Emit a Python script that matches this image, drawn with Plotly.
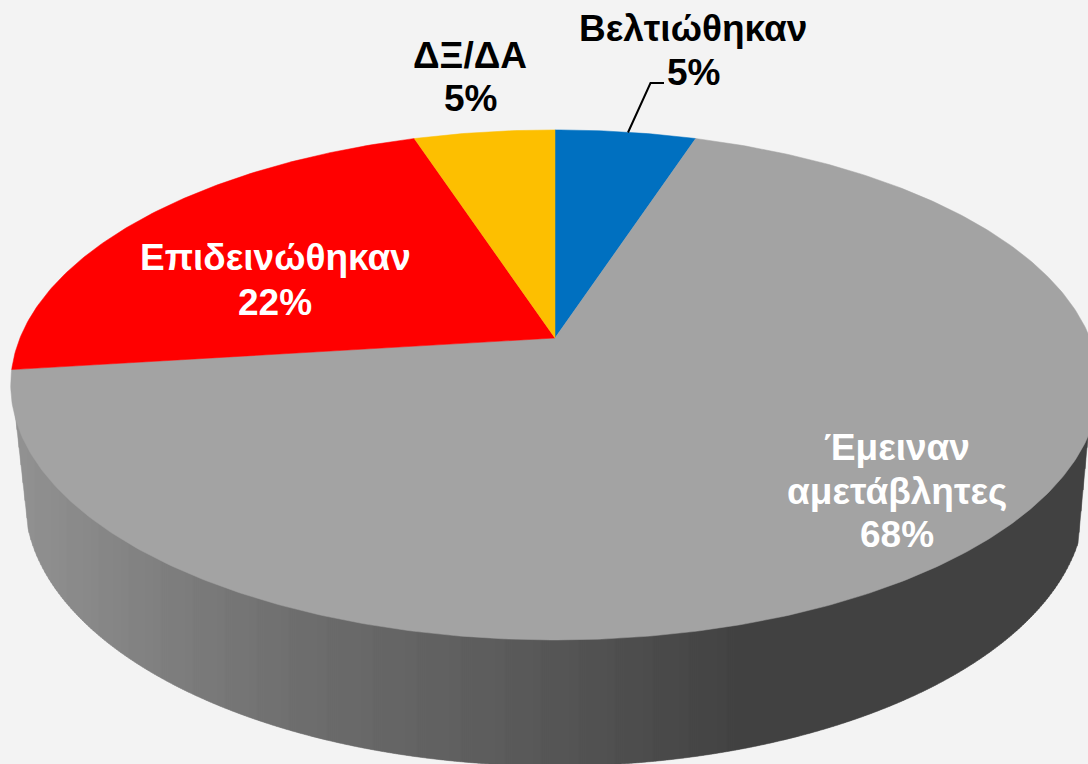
import numpy as np
import plotly.graph_objects as go

# Data (clockwise from 12 o'clock)
categories = ["Βελτιώθηκαν", "Έμειναν αμετάβλητες", "Επιδεινώθηκαν", "ΔΞ/ΔΑ"]
values = [5, 68, 22, 5]
colors = ["#0070c0", "#a3a3a3", "#ff0000", "#fdbf00"]
label_lines = [["Βελτιώθηκαν", "5%"], ["Έμειναν", "αμετάβλητες", "68%"], ["Επιδεινώθηκαν", "22%"], ["ΔΞ/ΔΑ", "5%"]]
label_x = [693, 897, 275, 470]
label_y = [[28, 72], [447, 491, 534], [257, 302], [55, 98]]
label_color = ["#000000", "#ffffff", "#ffffff", "#000000"]

W, H = 1088, 764
BG = "#f3f3f3"
CX, CY = 555, 338      # apex of the pie in the picture
B, A, K = 535, 246.4, 0.184   # perspective projection of the top disc

def project(theta):
    """Pie angle (clockwise from top, radians) to picture coordinates."""
    d = 1 + K * np.cos(theta)
    return CX + B * np.sin(theta) / d, CY - A * np.cos(theta) / d

fig = go.Figure()

# Side wall: vertical gradient strips down to the lower rim
LOW_CX, LOW_CY, LOW_RX, LOW_RY = 555, 500, 530, 266
def lower_rim(x):
    u = np.clip((x - LOW_CX) / LOW_RX, -1, 1)
    y = LOW_CY + LOW_RY * np.sqrt(1 - u * u)
    # straight run from the top disc to the lower ellipse at the two sides
    y = np.where(x < 28, 412 + (x - 15) * (527 - 412) / 13, y)
    y = np.where(x > 1078, 543 - (x - 1078) * (543 - 437) / 10, y)
    return y

grad_x = [15, 300, 500, 740, 1088]
grad_v = [146, 110, 92, 66, 66]
edges = np.arange(15, 1091, 2.0)
for x0, x1 in zip(edges[:-1], edges[1:]):
    xs = np.linspace(x0, x1, 3)
    ys = lower_rim(xs)
    v = int(round(np.interp((x0 + x1) / 2, grad_x, grad_v)))
    c = f"rgb({v},{v},{v})"
    fig.add_trace(go.Scatter(
        x=[x0, *xs, x1, x0], y=[385, *ys, 385, 385],
        mode="lines", fill="toself", fillcolor=c,
        line=dict(color=c, width=0.5), hoverinfo="skip", showlegend=False))

# Top disc
start = 0.0
total = sum(values)
for name, val, col in zip(categories, values, colors):
    end = start + val / total * 2 * np.pi
    th = np.linspace(start, end, max(int(val * 6), 12))
    px, py = project(th)
    fig.add_trace(go.Scatter(
        x=[CX, *px, CX], y=[CY, *py, CY], name=name,
        mode="lines", fill="toself", fillcolor=col,
        line=dict(color=col, width=0.5), hoverinfo="skip", showlegend=False))
    start = end

# Leader line of the first label
leader_x = [628, 650.5, 664]
leader_y = [132.5, 83, 83]
fig.add_trace(go.Scatter(x=leader_x, y=leader_y, mode="lines",
                         line=dict(color="#000000", width=2),
                         hoverinfo="skip", showlegend=False))

# Labels, one annotation per line for exact leading
annotations = []
for lines, lx, lys, lc in zip(label_lines, label_x, label_y, label_color):
    for text, ly in zip(lines, lys):
        annotations.append(dict(
            x=lx, y=ly, text=f"<b>{text}</b>", showarrow=False,
            xanchor="center", yanchor="middle",
            font=dict(family="Liberation Sans", size=37, color=lc)))

fig.update_layout(
    width=W, height=H, margin=dict(l=0, r=0, t=0, b=0),
    paper_bgcolor=BG, plot_bgcolor=BG, showlegend=False,
    annotations=annotations,
    xaxis=dict(range=[0, W], visible=False, fixedrange=True),
    yaxis=dict(range=[H, 0], visible=False, fixedrange=True),
)
fig.write_html("out.html", config=dict(displayModeBar=False),
               post_script=f"document.body.style.margin='0';document.body.style.background='{BG}';document.body.style.overflow='hidden';")
